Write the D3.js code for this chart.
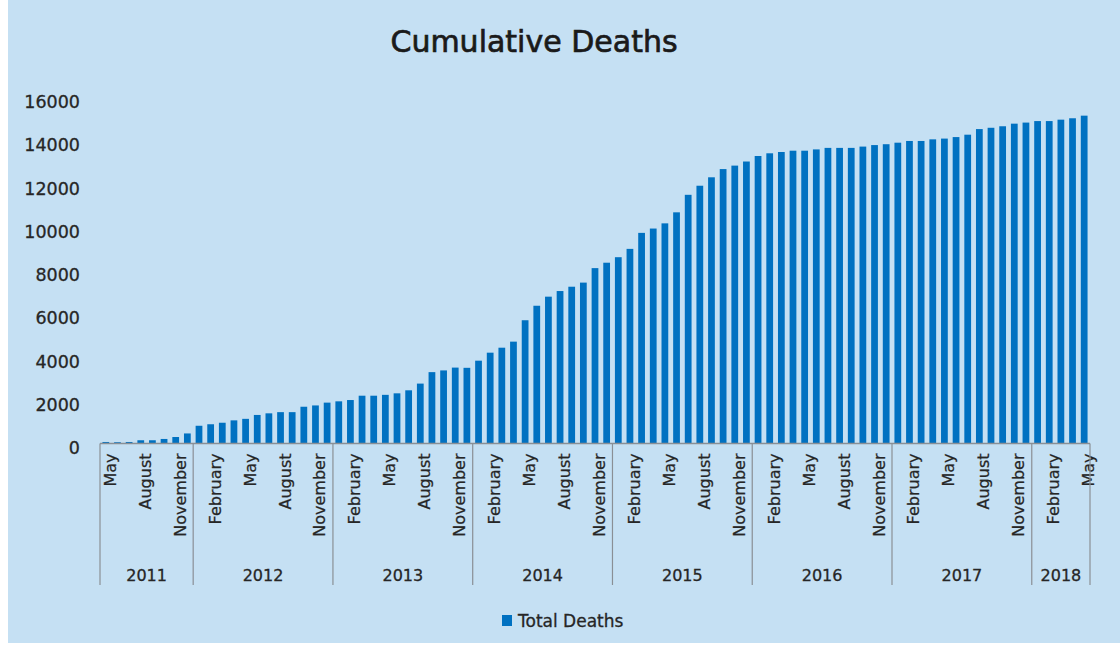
<!DOCTYPE html>
<html>
<head>
<meta charset="utf-8">
<script src="https://cdn.jsdelivr.net/npm/d3@7"></script>
<style>
  html, body { margin: 0; padding: 0; background: #ffffff; }
  svg { display: block; }
  text { font-family: "DejaVu Sans", "Open Sans", sans-serif; fill: #262626; }
</style>
</head>
<body>
<svg id="chart" width="1120" height="649"></svg>
<script>
// ---------- data ----------
const title = "Cumulative Deaths";
const seriesName = "Total Deaths";
const years = ["2011", "2012", "2013", "2014", "2015", "2016", "2017", "2018"];
const monthNames = ["January", "February", "March", "April", "May", "June",
                    "July", "August", "September", "October", "November", "December"];
const shownMonths = ["February", "May", "August", "November"];
const deaths2011 = [70, 60, 70, 150, 150, 210, 300, 465];               // May–Dec
const deaths2012 = [820, 890, 960, 1070, 1140, 1320, 1395, 1450, 1450, 1700, 1760, 1890];
const deaths2013 = [1950, 2010, 2210, 2210, 2250, 2320, 2460, 2770, 3300, 3380, 3510, 3500];
const deaths2014 = [3830, 4200, 4430, 4710, 5700, 6370, 6790, 7050, 7250, 7440, 8110, 8360];
const deaths2015 = [8615, 9000, 9740, 9940, 10180, 10690, 11500, 11920, 12310, 12690, 12850, 13040];
const deaths2016 = [13295, 13420, 13480, 13540, 13540, 13600, 13670, 13670, 13670, 13730, 13800, 13840];
const deaths2017 = [13910, 13990, 13990, 14065, 14100, 14170, 14280, 14540, 14600, 14670, 14790, 14840];
const deaths2018 = [14910, 14910, 14975, 15040, 15160];                 // Jan–May
const yTicks = [0, 2000, 4000, 6000, 8000, 10000, 12000, 14000, 16000];

// ---------- build table ----------
const perYear = [deaths2011, deaths2012, deaths2013, deaths2014, deaths2015, deaths2016, deaths2017, deaths2018];
const startMonth = [4, 0, 0, 0, 0, 0, 0, 0];
const data = [];
perYear.forEach((vals, yi) => {
  vals.forEach((v, k) => {
    const m = startMonth[yi] + k;
    data.push({ key: years[yi] + "-" + m, year: years[yi], month: monthNames[m], value: v });
  });
});

// ---------- layout ----------
const svg = d3.select("#chart");
const W = 1120, H = 649;
const plot = { left: 100, right: 1090, top: 97.5, bottom: 443.5 };
const textColor = "#262626";

svg.append("rect").attr("x", 8).attr("y", 0).attr("width", W - 8).attr("height", 643)
  .attr("fill", "#c5e0f3");

const x = d3.scaleBand()
  .domain(data.map(d => d.key))
  .range([plot.left, plot.right])
  .paddingInner(0.42)
  .paddingOuter(0.21);

const y = d3.scaleLinear().domain([0, 16000]).range([plot.bottom, plot.top]);

// title
svg.append("text")
  .attr("x", 534).attr("y", 52)
  .attr("text-anchor", "middle")
  .style("font-size", "30px")
  .style("fill", "#1a1a1a")
  .style("stroke", "#1a1a1a")
  .style("stroke-width", "0.7px")
  .text(title);

// y axis (labels only)
const yAxis = d3.axisLeft(y).tickValues(yTicks).tickSize(0).tickPadding(0).tickFormat(d3.format("d"));
const gy = svg.append("g").attr("transform", `translate(80,0)`).call(yAxis);
gy.select(".domain").remove();
gy.selectAll("text")
  .attr("dy", null)
  .attr("dominant-baseline", "central")
  .attr("transform", "translate(0,4.2)")
  .style("font-family", '"DejaVu Sans", sans-serif')
  .style("font-size", "17.5px")
  .style("fill", textColor)
  .style("stroke", textColor)
  .style("stroke-width", "0.3px");

// bars
svg.append("g").selectAll("rect")
  .data(data)
  .join("rect")
  .attr("x", d => x(d.key))
  .attr("width", x.bandwidth())
  .attr("y", d => y(d.value))
  .attr("height", d => y(0) - y(d.value))
  .attr("fill", "#0071c1");

// x axis baseline
const axisColor = "#8a8f95";
svg.append("line")
  .attr("x1", plot.left).attr("x2", plot.right)
  .attr("y1", plot.bottom).attr("y2", plot.bottom)
  .attr("stroke", axisColor).attr("stroke-width", 1.3);

// month labels via band axis
const xAxis = d3.axisBottom(x)
  .tickSize(0)
  .tickFormat(k => {
    const d = data.find(e => e.key === k);
    return shownMonths.includes(d.month) ? d.month : "";
  });
const gx = svg.append("g").attr("transform", `translate(0,${plot.bottom})`).call(xAxis);
gx.select(".domain").remove();
gx.selectAll(".tick text")
  .attr("y", 0).attr("dy", null)
  .attr("text-anchor", "end")
  .attr("dominant-baseline", "central")
  .attr("transform", "translate(4.5,10) rotate(-90)")
  .style("font-family", '"DejaVu Sans", sans-serif')
  .style("font-size", "16px")
  .style("fill", textColor)
  .style("stroke", textColor)
  .style("stroke-width", "0.25px");

// year groups: separators and labels
const groups = years.map(yr => {
  const items = data.filter(d => d.year === yr);
  const first = items[0].key, last = items[items.length - 1].key;
  const x0 = x(first) - x.step() * x.paddingInner() / 2;
  const x1 = x(last) + x.bandwidth() + x.step() * x.paddingInner() / 2;
  return { year: yr, x0, x1 };
});
const sepBottom = 585;
const bounds = [groups[0].x0, ...groups.map(g => g.x1)];
svg.append("g").selectAll("line")
  .data(bounds)
  .join("line")
  .attr("x1", d => d).attr("x2", d => d)
  .attr("y1", plot.bottom).attr("y2", sepBottom)
  .attr("stroke", axisColor).attr("stroke-width", 1.2);

svg.append("g").selectAll("text")
  .data(groups)
  .join("text")
  .attr("x", g => (g.x0 + g.x1) / 2)
  .attr("y", 575)
  .attr("text-anchor", "middle")
  .attr("dominant-baseline", "central")
  .style("font-size", "16px")
  .style("stroke", textColor)
  .style("stroke-width", "0.3px")
  .text(g => g.year);

// legend
const lg = svg.append("g");
lg.append("rect").attr("x", 502).attr("y", 615).attr("width", 10).attr("height", 11).attr("fill", "#0071c1");
lg.append("text").attr("x", 518).attr("y", 621)
  .attr("dominant-baseline", "central")
  .style("font-size", "17px")
  .style("stroke", textColor)
  .style("stroke-width", "0.3px")
  .text(seriesName);
</script>
</body>
</html>
